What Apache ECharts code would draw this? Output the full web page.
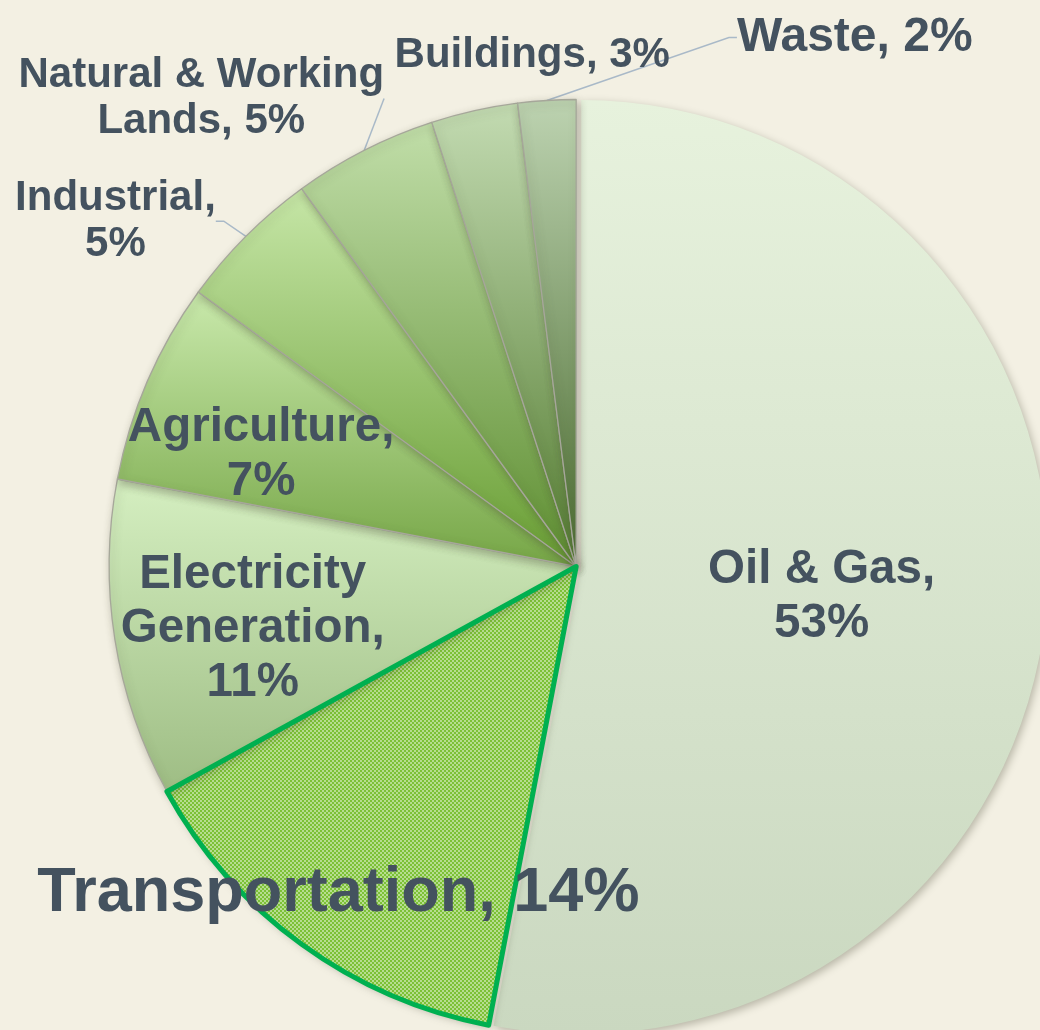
<!DOCTYPE html>
<html>
<head>
<meta charset="utf-8">
<script src="https://cdn.jsdelivr.net/npm/echarts@6.0.0/dist/echarts.min.js"></script>
<style>
    html, body { margin: 0; padding: 0; background: #f3f0e3; }
    #chart { width: 1040px; height: 1030px; }
</style>
</head>
<body>
<div id="chart"></div>
<script>
'use strict';

// emission shares by sector, clockwise from 12 o'clock
const categories = ['Oil & Gas', 'Transportation', 'Electricity Generation', 'Agriculture',
    'Industrial', 'Natural & Working Lands', 'Buildings', 'Waste'];
const shares = [53, 14, 11, 7, 5, 5, 3, 2];

// label text as printed on the slide
const labelNames = ['Oil & Gas', 'Transportation', 'Electricity\nGeneration', 'Agriculture',
    'Industrial', 'Natural & Working\nLands', 'Buildings', 'Waste'];
const valueBreaks = ['\n', ' ', '\n', '\n', '\n', ' ', ' ', ' '];

const R = 467;
const center = ['55.4%', '55%'];
const ink = '#44525f';
const font = "'Liberation Sans', Arial, sans-serif";

// top -> bottom gradient of each slice (transportation uses the hatch tile)
const shades = [
    ['#e7f2dd', '#cad8c0'],
    null,
    ['#d5efc1', '#9ebd84'],
    ['#c9e9ac', '#76a646'],
    ['#c6e6a7', '#689d33'],
    ['#c1dea9', '#5e8e31'],
    ['#c3dbb2', '#547c31'],
    ['#bdd3b1', '#4b6c30'],
];
const labelKind = ['in', 'big', 'in', 'in', 'out', 'out', 'out', 'waste'];
const lineTail = [0, 0, 0, 0, 8, 0, 10, 8];
// small nudges on top of where echarts puts each label
const labelShift = {
    0: [10, 8], 2: [7, 10], 3: [-8, 21],
    4: [-3, -1], 5: [34, -34], 6: [215, -36], 7: [440, -43]
};

const tile = document.createElement('canvas');
tile.width = tile.height = 4;
const tctx = tile.getContext('2d');
tctx.fillStyle = '#7cc136';
tctx.fillRect(0, 0, 4, 4);
tctx.fillStyle = 'rgba(255,255,255,0.45)';
tctx.fillRect(0, 0, 2, 2);
tctx.fillRect(2, 2, 2, 2);

const textStyle = (size, lh) => ({
    fontSize: size, lineHeight: lh, fontWeight: 'bold', color: ink,
    fontFamily: font, align: 'center', textBorderWidth: 0
});
const rich = {
    in: textStyle(47.5, 54),
    big: textStyle(63, 70),
    out: textStyle(42, 46),
    waste: textStyle(48, 52),
};

function labelText(p) {
    const i = p.dataIndex;
    const txt = labelNames[i] + ',' + valueBreaks[i] + shares[i] + '%';
    return txt.split('\n').map((l) => '{' + labelKind[i] + '|' + l + '}').join('\n');
}

function shiftLabel(params) {
    const s = labelShift[params.dataIndex];
    if (!s) return {};
    const r = params.labelRect;
    return {
        x: r.x + r.width / 2 + s[0],
        y: r.y + r.height / 2 + s[1],
        align: 'center', verticalAlign: 'middle'
    };
}

const labelBase = {
    formatter: labelText, rich: rich, overflow: 'none',
    color: ink, fontFamily: font, fontWeight: 'bold', textBorderWidth: 0
};

function sliceStyle(i) {
    const base = {
        shadowBlur: 8, shadowColor: 'rgba(70,70,50,0.35)',
        shadowOffsetX: 2, shadowOffsetY: 3,
        borderColor: '#a6a79a', borderWidth: i === 0 ? 0 : 1.3
    };
    if (i === 1) {
        return Object.assign(base, { color: { image: tile, repeat: 'repeat' }, borderWidth: 0 });
    }
    return Object.assign(base, {
        color: {
            type: 'linear', x: 0, y: 0, x2: 0, y2: 1,
            colorStops: [{ offset: 0, color: shades[i][0] }, { offset: 1, color: shades[i][1] }]
        }
    });
}

// transparent copy of the pie, used for labels at other radii / the highlight border
function ring(inner, shown, itemFor) {
    return {
        type: 'pie', center: center, radius: [inner * R, R], startAngle: 90,
        silent: true, avoidLabelOverlap: false, emphasis: { disabled: true },
        itemStyle: { color: 'rgba(0,0,0,0)', borderWidth: 0 },
        label: Object.assign({ position: 'inside' }, labelBase),
        labelLine: { show: false },
        labelLayout: shiftLabel,
        data: categories.map((name, i) => ({
            name: name, value: shares[i],
            label: { show: shown.indexOf(i) >= 0 },
            itemStyle: itemFor ? itemFor(i) : undefined
        }))
    };
}

document.addEventListener('DOMContentLoaded', () => {
    const chart = echarts.init(document.getElementById('chart'));

    chart.setOption({
        backgroundColor: '#f3f0e3',
        animation: false,
        series: [
            {
                type: 'pie',
                center: center,
                radius: R,
                startAngle: 90,
                selectedMode: 'single',
                selectedOffset: 5,
                avoidLabelOverlap: false,
                emphasis: { disabled: true },
                select: { itemStyle: { borderWidth: 0 } },
                label: Object.assign({}, labelBase),
                labelLine: {
                    length: 20,
                    lineStyle: { color: '#a9b9c8', width: 1.5 }
                },
                labelLayout: shiftLabel,
                data: categories.map((name, i) => ({
                    name: name,
                    value: shares[i],
                    selected: i === 0,
                    itemStyle: sliceStyle(i),
                    label: { show: i >= 4, position: 'outside' },
                    labelLine: { show: i >= 4 && i !== 6, length: 20, length2: lineTail[i] }
                }))
            },
            ring(0, [0], (i) => i === 1
                ? { color: 'rgba(0,0,0,0)', borderColor: '#00b050', borderWidth: 5 }
                : { color: 'rgba(0,0,0,0)', borderWidth: 0 }),
            ring(0.42, [2, 3]),
            ring(0.72, [1])
        ]
    });
});
</script>
</body>
</html>
